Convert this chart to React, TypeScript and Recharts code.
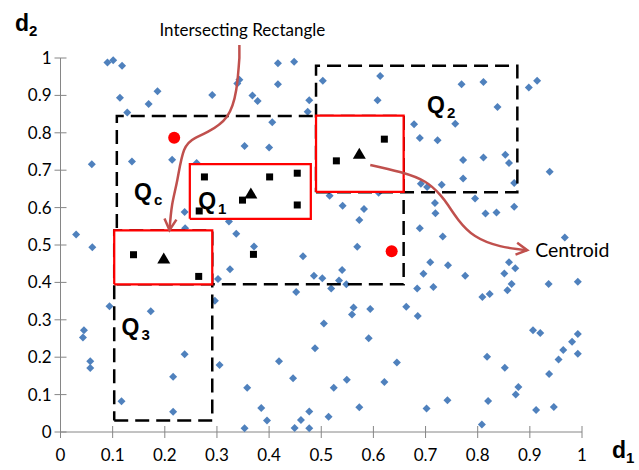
import { ScatterChart, Scatter, XAxis, YAxis } from "recharts";

// random sample of the 2-d data set (d1, d2)
const samplePoints = [
  { x: 0.090, y: 0.988 }, { x: 0.101, y: 0.994 }, { x: 0.118, y: 0.979 }, { x: 0.114, y: 0.894 },
  { x: 0.186, y: 0.911 }, { x: 0.169, y: 0.877 }, { x: 0.128, y: 0.854 }, { x: 0.060, y: 0.716 },
  { x: 0.137, y: 0.723 }, { x: 0.214, y: 0.728 },
  { x: 0.417, y: 0.986 }, { x: 0.448, y: 0.990 }, { x: 0.343, y: 0.942 }, { x: 0.339, y: 0.932 },
  { x: 0.417, y: 0.930 }, { x: 0.503, y: 0.939 }, { x: 0.291, y: 0.901 }, { x: 0.368, y: 0.900 },
  { x: 0.378, y: 0.885 }, { x: 0.477, y: 0.887 }, { x: 0.474, y: 0.856 }, { x: 0.406, y: 0.828 },
  { x: 0.353, y: 0.765 }, { x: 0.400, y: 0.761 }, { x: 0.261, y: 0.719 },
  { x: 0.613, y: 0.952 }, { x: 0.769, y: 0.930 }, { x: 0.608, y: 0.887 }, { x: 0.678, y: 0.823 },
  { x: 0.757, y: 0.824 }, { x: 0.689, y: 0.786 }, { x: 0.723, y: 0.780 }, { x: 0.772, y: 0.727 },
  { x: 0.772, y: 0.678 },
  { x: 0.811, y: 0.936 }, { x: 0.914, y: 0.939 }, { x: 0.898, y: 0.921 }, { x: 0.838, y: 0.869 },
  { x: 0.811, y: 0.734 }, { x: 0.853, y: 0.741 }, { x: 0.860, y: 0.719 }, { x: 0.938, y: 0.696 },
  { x: 0.238, y: 0.588 }, { x: 0.239, y: 0.545 }, { x: 0.030, y: 0.528 }, { x: 0.061, y: 0.494 },
  { x: 0.094, y: 0.336 }, { x: 0.173, y: 0.323 },
  { x: 0.516, y: 0.632 }, { x: 0.323, y: 0.563 }, { x: 0.337, y: 0.530 }, { x: 0.371, y: 0.496 },
  { x: 0.465, y: 0.470 }, { x: 0.325, y: 0.435 }, { x: 0.302, y: 0.409 }, { x: 0.486, y: 0.418 },
  { x: 0.502, y: 0.411 }, { x: 0.519, y: 0.384 }, { x: 0.452, y: 0.374 }, { x: 0.296, y: 0.351 },
  { x: 0.691, y: 0.664 }, { x: 0.703, y: 0.655 }, { x: 0.731, y: 0.661 }, { x: 0.610, y: 0.640 },
  { x: 0.541, y: 0.605 }, { x: 0.582, y: 0.596 }, { x: 0.573, y: 0.567 }, { x: 0.718, y: 0.612 },
  { x: 0.719, y: 0.585 }, { x: 0.795, y: 0.624 }, { x: 0.689, y: 0.545 }, { x: 0.733, y: 0.523 },
  { x: 0.569, y: 0.495 }, { x: 0.709, y: 0.454 }, { x: 0.743, y: 0.446 }, { x: 0.540, y: 0.433 },
  { x: 0.696, y: 0.423 }, { x: 0.776, y: 0.418 }, { x: 0.534, y: 0.405 }, { x: 0.548, y: 0.395 },
  { x: 0.684, y: 0.384 }, { x: 0.715, y: 0.388 }, { x: 0.562, y: 0.333 }, { x: 0.594, y: 0.329 },
  { x: 0.663, y: 0.335 },
  { x: 0.870, y: 0.666 }, { x: 0.815, y: 0.584 }, { x: 0.836, y: 0.587 }, { x: 0.870, y: 0.602 },
  { x: 0.967, y: 0.520 }, { x: 0.860, y: 0.454 }, { x: 0.872, y: 0.438 }, { x: 0.851, y: 0.424 },
  { x: 0.865, y: 0.396 }, { x: 0.936, y: 0.396 }, { x: 0.992, y: 0.402 }, { x: 0.857, y: 0.379 },
  { x: 0.823, y: 0.369 }, { x: 0.809, y: 0.361 },
  { x: 0.045, y: 0.272 }, { x: 0.043, y: 0.253 }, { x: 0.238, y: 0.208 }, { x: 0.057, y: 0.189 },
  { x: 0.057, y: 0.171 }, { x: 0.216, y: 0.148 }, { x: 0.117, y: 0.082 }, { x: 0.216, y: 0.054 },
  { x: 0.505, y: 0.290 }, { x: 0.305, y: 0.179 }, { x: 0.488, y: 0.224 }, { x: 0.419, y: 0.189 },
  { x: 0.446, y: 0.144 }, { x: 0.358, y: 0.118 }, { x: 0.524, y: 0.118 }, { x: 0.385, y: 0.064 },
  { x: 0.477, y: 0.055 }, { x: 0.514, y: 0.041 }, { x: 0.396, y: 0.031 }, { x: 0.461, y: 0.032 },
  { x: 0.353, y: 0.010 }, { x: 0.449, y: 0.011 }, { x: 0.477, y: 0.010 },
  { x: 0.559, y: 0.314 }, { x: 0.685, y: 0.310 }, { x: 0.591, y: 0.251 }, { x: 0.645, y: 0.186 },
  { x: 0.549, y: 0.140 }, { x: 0.621, y: 0.134 }, { x: 0.742, y: 0.085 }, { x: 0.573, y: 0.066 },
  { x: 0.702, y: 0.063 },
  { x: 0.906, y: 0.272 }, { x: 0.920, y: 0.265 }, { x: 0.992, y: 0.262 }, { x: 0.981, y: 0.241 },
  { x: 0.964, y: 0.219 }, { x: 0.992, y: 0.209 }, { x: 0.955, y: 0.194 }, { x: 0.818, y: 0.201 },
  { x: 0.852, y: 0.172 }, { x: 0.937, y: 0.155 }, { x: 0.878, y: 0.120 }, { x: 0.873, y: 0.100 },
  { x: 0.820, y: 0.083 }, { x: 0.946, y: 0.067 }, { x: 0.912, y: 0.059 }, { x: 0.808, y: 0.020 },
];

// points that fall into the intersecting rectangles
const resultPoints = [
  { x: 0.140, y: 0.474 }, { x: 0.265, y: 0.416 }, { x: 0.266, y: 0.591 }, { x: 0.349, y: 0.620 },
  { x: 0.454, y: 0.607 }, { x: 0.276, y: 0.682 }, { x: 0.401, y: 0.682 }, { x: 0.454, y: 0.692 },
  { x: 0.370, y: 0.475 }, { x: 0.621, y: 0.783 }, { x: 0.529, y: 0.725 },
];

const centroids = [
  { x: 0.198, y: 0.464 }, { x: 0.365, y: 0.638 }, { x: 0.573, y: 0.744 },
];

const queryCenters = [
  { x: 0.218, y: 0.787 }, { x: 0.635, y: 0.483 },
];

// [x1, y1, x2, y2]
const queryBoxes = [
  [0.108, 0.395, 0.658, 0.845], // Qc
  [0.490, 0.641, 0.876, 0.979], // Q2
  [0.103, 0.031, 0.291, 0.539], // Q3
];

const intersectBoxes = [
  [0.248, 0.570, 0.480, 0.716],
  [0.490, 0.642, 0.658, 0.846],
  [0.103, 0.395, 0.291, 0.539],
];

const queryLabels = [
  { x: 0.703, y: 0.853, label: "Q", sub: "2" },
  { x: 0.141, y: 0.620, label: "Q", sub: "c" },
  { x: 0.264, y: 0.596, label: "Q", sub: "1" },
  { x: 0.117, y: 0.259, label: "Q", sub: "3" },
];

const intersectArrow = [
  { x: 0.343, y: 1.0 }, { x: 0.337, y: 0.915 }, { x: 0.319, y: 0.843 }, { x: 0.283, y: 0.803 },
  { x: 0.258, y: 0.786 }, { x: 0.237, y: 0.754 }, { x: 0.224, y: 0.674 }, { x: 0.214, y: 0.607 },
  { x: 0.209, y: 0.540 },
];

const centroidArrow = [
  { x: 0.594, y: 0.714 }, { x: 0.651, y: 0.695 }, { x: 0.699, y: 0.669 }, { x: 0.728, y: 0.634 },
  { x: 0.743, y: 0.607 }, { x: 0.763, y: 0.567 }, { x: 0.795, y: 0.524 }, { x: 0.843, y: 0.497 },
  { x: 0.895, y: 0.486 },
];

const axisTicks = [0, 0.1, 0.2, 0.3, 0.4, 0.5, 0.6, 0.7, 0.8, 0.9, 1];

const AXIS = "#868686";
const BLUE = "#4F81BD";
const ARROW = "#C0504D";
const FONT = "Lato, 'Open Sans', sans-serif";
const BOLD = "'Liberation Sans', Arial, sans-serif";

const fmt = (v: number) => String(Number(v.toFixed(1)));

const corners = (b: number[]) => [
  { x: b[0], y: b[1] }, { x: b[2], y: b[1] }, { x: b[2], y: b[3] }, { x: b[0], y: b[3] }, { x: b[0], y: b[1] },
];

const XTick = ({ x, y, payload }: any) => (
  <g>
    <line x1={x} x2={x} y1={y - 6} y2={y + 6} stroke={AXIS} />
    <text x={x} y={y + 29} textAnchor="middle" fontFamily={FONT} fontSize={17} fill="#000">
      {fmt(payload.value)}
    </text>
  </g>
);

const YTick = ({ x, y, payload }: any) => (
  <g>
    <line x1={x - 6} x2={x + 6} y1={y} y2={y} stroke={AXIS} />
    <text x={x - 9} y={y + 6} textAnchor="end" fontFamily={FONT} fontSize={17} fill="#000">
      {fmt(payload.value)}
    </text>
  </g>
);

const Diamond = ({ cx, cy }: any) => (
  <path d={`M${cx},${cy - 4}L${cx + 4},${cy}L${cx},${cy + 4}L${cx - 4},${cy}Z`} fill={BLUE} />
);

const Square = ({ cx, cy }: any) => <rect x={cx - 3.5} y={cy - 3.5} width={7} height={7} fill="#000" />;

const Triangle = ({ cx, cy }: any) => (
  <path d={`M${cx},${cy - 6}L${cx + 6.5},${cy + 5}L${cx - 6.5},${cy + 5}Z`} fill="#000" />
);

const RedDot = ({ cx, cy }: any) => <circle cx={cx} cy={cy} r={6} fill="#FF0000" />;

const Nothing = () => <g />;

const QLabel = ({ cx, cy, payload }: any) => (
  <text x={cx} y={cy} fontFamily={BOLD} fontWeight="bold" fontSize={23} fill="#000">
    {payload.label}
    <tspan fontSize={15} dx={2} dy={5}>{payload.sub}</tspan>
  </text>
);

const arrowHead = (angle: number) => ({ cx, cy }: any) => (
  <path
    d={`M${cx - 11},${cy - 6}L${cx},${cy}L${cx - 11},${cy + 6}`}
    transform={`rotate(${angle} ${cx} ${cy})`}
    fill="none"
    stroke={ARROW}
    strokeWidth={2.5}
  />
);

const IntersectCaption = ({ cx, cy }: any) => (
  <g>
    <line x1={cx} x2={cx} y1={cy} y2={cy - 13} stroke={ARROW} strokeWidth={2.5} />
    <text x={cx + 3} y={cy - 22} textAnchor="middle" fontFamily={FONT} fontSize={17} fill="#000">
      Intersecting Rectangle
    </text>
  </g>
);

const CentroidCaption = ({ cx, cy }: any) => (
  <text x={cx + 8} y={cy + 7} fontFamily={FONT} fontSize={19.5} fill="#000">
    Centroid
  </text>
);

export default function App() {
  return (
    <div style={{ position: "absolute", left: 0, top: 0, background: "#fff" }}>
      <ScatterChart width={639} height={470} margin={{ top: 58, right: 57, bottom: 0, left: 0 }}>
        <XAxis
          type="number"
          dataKey="x"
          domain={[0, 1]}
          ticks={axisTicks}
          interval={0}
          height={38}
          tickSize={0}
          tickMargin={0}
          tickLine={false}
          axisLine={{ stroke: AXIS }}
          tick={(p: any) => <XTick {...p} />}
          label={{
            content: ({ viewBox }: any) => (
              <text x={viewBox.x + viewBox.width + 30} y={viewBox.y + 26} fontFamily={BOLD} fontWeight="bold" fontSize={23}>
                d<tspan fontSize={15} dy={5}>1</tspan>
              </text>
            ),
          }}
        />
        <YAxis
          type="number"
          dataKey="y"
          domain={[0, 1]}
          ticks={axisTicks}
          interval={0}
          width={60.5}
          tickSize={0}
          tickMargin={0}
          tickLine={false}
          axisLine={{ stroke: AXIS }}
          tick={(p: any) => <YTick {...p} />}
          label={{
            content: ({ viewBox }: any) => (
              <text x={viewBox.x + 15} y={viewBox.y - 27} fontFamily={BOLD} fontWeight="bold" fontSize={23}>
                d<tspan fontSize={15} dy={5}>2</tspan>
              </text>
            ),
          }}
        />

        <Scatter data={samplePoints} shape={Diamond} isAnimationActive={false} />

        {queryBoxes.map((b, i) => (
          <Scatter
            key={`q${i}`}
            data={corners(b)}
            shape={Nothing}
            line={{ stroke: "#000", strokeWidth: 2.5, strokeDasharray: "14 7", fill: "none" }}
            isAnimationActive={false}
          />
        ))}
        {intersectBoxes.map((b, i) => (
          <Scatter
            key={`r${i}`}
            data={corners(b)}
            shape={Nothing}
            line={{ stroke: "#FF0000", strokeWidth: 2.25, fill: "#fff" }}
            isAnimationActive={false}
          />
        ))}

        <Scatter data={resultPoints} shape={Square} isAnimationActive={false} />
        <Scatter data={centroids} shape={Triangle} isAnimationActive={false} />
        <Scatter data={queryCenters} shape={RedDot} isAnimationActive={false} />
        <Scatter data={queryLabels} shape={QLabel} isAnimationActive={false} />

        <Scatter
          data={intersectArrow}
          shape={Nothing}
          line={{ stroke: ARROW, strokeWidth: 2.5, fill: "none" }}
          lineJointType="natural"
          isAnimationActive={false}
        />
        <Scatter data={intersectArrow.slice(0, 1)} shape={IntersectCaption} isAnimationActive={false} />
        <Scatter data={intersectArrow.slice(-1)} shape={arrowHead(95)} isAnimationActive={false} />

        <Scatter
          data={centroidArrow}
          shape={Nothing}
          line={{ stroke: ARROW, strokeWidth: 2.5, fill: "none" }}
          lineJointType="natural"
          isAnimationActive={false}
        />
        <Scatter data={centroidArrow.slice(-1)} shape={arrowHead(8)} isAnimationActive={false} />
        <Scatter data={centroidArrow.slice(-1)} shape={CentroidCaption} isAnimationActive={false} />
      </ScatterChart>
    </div>
  );
}
